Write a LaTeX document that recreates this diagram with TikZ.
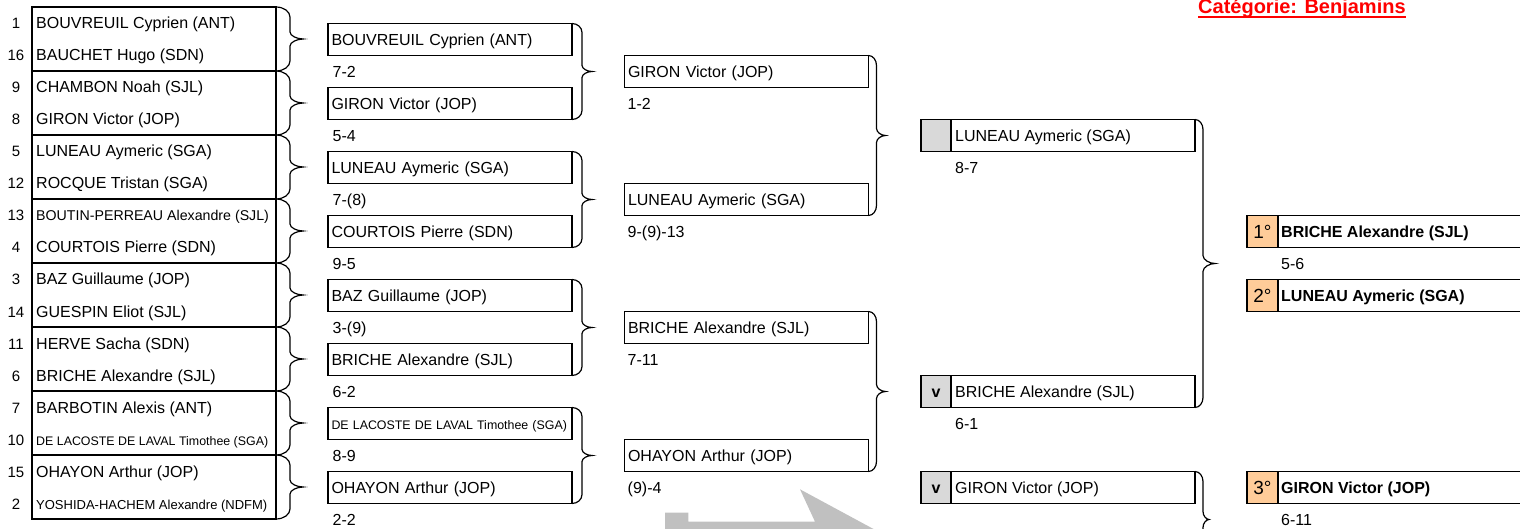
\documentclass[tikz,border=0pt]{standalone}
\usepackage{fontspec}
\setmainfont{Liberation Sans}
\usetikzlibrary{calc}
\definecolor{cellgrey}{HTML}{D9D9D9}
\definecolor{arrowgrey}{HTML}{C0C0C0}
\definecolor{placeorange}{HTML}{FFCC99}
\definecolor{titlered}{HTML}{FF0000}
\newcommand\fsn{\fontsize{16pt}{18pt}\selectfont}
\newcommand\fsa{\fontsize{14.2pt}{16pt}\selectfont}
\newcommand\fsb{\fontsize{13pt}{15pt}\selectfont}
\newcommand\fsc{\fontsize{12.4pt}{14pt}\selectfont}
\newcommand\fsseed{\fontsize{15pt}{17pt}\selectfont}
\newcommand\fsplace{\fontsize{19pt}{21pt}\selectfont}
\newcommand\fstitle{\fontsize{20pt}{22pt}\selectfont\bfseries}
% brace: #1 top point, #2 bottom point, #3 dx to vertical, #4 dx to tip, #5 end radius, #6 tip radius
\newcommand\brk[6]{%
  \draw[brc] let \p1=#1, \p2=#2, \p3=($#1!0.5!#2$) in
   (\x1,\y1) .. controls (\x1+0.55*#3pt,\y1) and (\x1+#3pt,\y1-0.45*#5pt) .. (\x1+#3pt,\y1-#5pt)
   -- (\x1+#3pt,\y3+#6pt)
   .. controls (\x1+#3pt,\y3+0.45*#6pt) and (\x1+0.55*#4pt+0.45*#3pt,\y3) .. (\x1+#4pt,\y3)
   .. controls (\x1+0.55*#4pt+0.45*#3pt,\y3) and (\x1+#3pt,\y3-0.45*#6pt) .. (\x1+#3pt,\y3-#6pt)
   -- (\x1+#3pt,\y2+#5pt)
   .. controls (\x1+#3pt,\y2+0.45*#5pt) and (\x2+0.55*#3pt,\y2) .. (\x2,\y2);}
\tikzset{
  brc/.style={line width=1.2pt, black},
  grp/.style={draw, line width=1.6pt, minimum width=244pt, minimum height=64pt, inner sep=0pt, outer sep=0pt, anchor=north west},
  seed/.style={anchor=base, inner sep=0pt, font=\fsseed},
  rowtxt/.style={anchor=base west, inner sep=0pt},
  bx/.style={draw, line width=1.6pt, minimum height=32pt, inner xsep=3.5pt, inner ysep=0pt, outer sep=0pt,
     text width=237pt, align=left, text height=15pt, text depth=3pt, anchor=west},
  sc/.style={anchor=base west, inner sep=0pt, font=\fsn},
  wbox/.style={draw, line width=1.6pt, minimum height=32pt, inner sep=0pt, outer sep=0pt, anchor=west},
  cell/.style={draw, line width=1.6pt, minimum height=32pt, inner sep=0pt, outer sep=0pt, anchor=west,
     text height=15pt, text depth=3pt},
}
\begin{document}
\begin{tikzpicture}[x=1pt,y=-1pt]
\useasboundingbox (0,0) rectangle (1520,529);
\clip (0,0) rectangle (1520,529);

% big grey arrow (bottom, partly cut)
\fill[arrowgrey] (665,540) -- (665,512.7) -- (688.3,512.7) -- (688.3,521.7) -- (815,521.7)
  -- (800,489.3) -- (890,537.9) -- (890,540) -- cycle;

% title
\node[anchor=base west, inner sep=0pt, font=\fstitle, text=titlered] (title) at (1198,13.3) {Catégorie: Benjamins};
\draw[titlered, line width=2.3pt] ([yshift=-3.7pt]title.base west) -- ([yshift=-3.7pt]title.base east);

% round 1
\foreach \k in {0,...,7} {\node[grp] (g\k) at (32,7+64*\k) {};}
\foreach \s/\nm/\f [count=\i from 0] in {
  1/BOUVREUIL Cyprien (ANT)/\fsn,
  16/BAUCHET Hugo (SDN)/\fsn,
  9/CHAMBON Noah (SJL)/\fsn,
  8/GIRON Victor (JOP)/\fsn,
  5/LUNEAU Aymeric (SGA)/\fsn,
  12/ROCQUE Tristan (SGA)/\fsn,
  13/BOUTIN-PERREAU Alexandre (SJL)/\fsa,
  4/COURTOIS Pierre (SDN)/\fsn,
  3/BAZ Guillaume (JOP)/\fsn,
  14/GUESPIN Eliot (SJL)/\fsn,
  11/HERVE Sacha (SDN)/\fsn,
  6/BRICHE Alexandre (SJL)/\fsn,
  7/BARBOTIN Alexis (ANT)/\fsn,
  10/DE LACOSTE DE LAVAL Timothee (SGA)/\fsc,
  15/OHAYON Arthur (JOP)/\fsn,
  2/YOSHIDA-HACHEM Alexandre (NDFM)/\fsb}
{
  \node[seed] (s\i) at (16,29+32*\i) {\s};
  \node[rowtxt, font=\f] (n\i) at (36,29+32*\i) {\nm};
}
\foreach \k in {0,...,7} {\brk{(g\k.north east)}{(g\k.south east)}{14}{27}{10}{7}}

% round 2
\foreach \nm/\scr/\f [count=\i from 0] in {
  BOUVREUIL Cyprien (ANT)/7-2/\fsn,
  GIRON Victor (JOP)/5-4/\fsn,
  LUNEAU Aymeric (SGA)/7-(8)/\fsn,
  COURTOIS Pierre (SDN)/9-5/\fsn,
  BAZ Guillaume (JOP)/3-(9)/\fsn,
  BRICHE Alexandre (SJL)/6-2/\fsn,
  DE LACOSTE DE LAVAL Timothee (SGA)/8-9/\fsc,
  OHAYON Arthur (JOP)/2-2/\fsn}
{
  \node[bx, font=\f] (b\i) at (328,39.5+64*\i) {\nm};
  \node[sc] (bs\i) at (332.5,77.5+64*\i) {\scr};
}
\foreach \k in {0,2,4,6} {\pgfmathtruncatemacro\kk{\k+1}\brk{(b\k.north east)}{(b\kk.south east)}{10}{20}{9}{6}}

% round 3
\foreach \nm/\scr [count=\i from 0] in {
  GIRON Victor (JOP)/1-2,
  LUNEAU Aymeric (SGA)/9-(9)-13,
  BRICHE Alexandre (SJL)/7-11,
  OHAYON Arthur (JOP)/(9)-4}
{
  \node[bx, font=\fsn] (c\i) at (624.5,71.5+128*\i) {\nm};
  \node[sc] (cs\i) at (627.5,109.5+128*\i) {\scr};
}
\brk{(c0.north east)}{(c1.south east)}{8}{17}{10}{7}
\brk{(c2.north east)}{(c3.south east)}{8}{17}{10}{7}

% round 4
\node[wbox, minimum width=274pt] (d0) at (921,135.5) {};
\node[cell, minimum width=30pt, fill=cellgrey] (dv0) at (921,135.5) {};
\node[rowtxt, font=\fsn] (dn0) at (955,141.5) {LUNEAU Aymeric (SGA)};
\node[sc] (ds0) at (955,173.5) {8-7};

\node[wbox, minimum width=274pt] (d1) at (921,391.5) {};
\node[cell, minimum width=30pt, fill=cellgrey, font=\fsn\bfseries] (dv1) at (921,391.5) {v};
\node[rowtxt, font=\fsn] (dn1) at (955,397.5) {BRICHE Alexandre (SJL)};
\node[sc] (ds1) at (955,429.5) {6-1};

\node[wbox, minimum width=274pt] (d2) at (921,487.5) {};
\node[cell, minimum width=30pt, fill=cellgrey, font=\fsn\bfseries] (dv2) at (921,487.5) {v};
\node[rowtxt, font=\fsn] (dn2) at (955,493.5) {GIRON Victor (JOP)};

\brk{(d0.north east)}{(d1.south east)}{8}{20}{10}{8}
\coordinate (d3) at (1195,567.5);
\brk{(d2.north east)}{(d3)}{8}{14}{10}{8}

% final places
\foreach \pl/\nm/\yy/\nn in {1°/BRICHE Alexandre (SJL)/231.5/0, 2°/LUNEAU Aymeric (SGA)/295.5/1, 3°/GIRON Victor (JOP)/487.5/2}
{
  \node[wbox, minimum width=290pt] (e\nn) at (1247,\yy) {};
  \node[cell, minimum width=31pt, fill=placeorange, font=\fsplace, text height=15pt, text depth=1pt] (ep\nn) at (1247,\yy) {\pl};
  \node[rowtxt, font=\fsn\bfseries] (en\nn) at (1281,\yy+6) {\nm};
}
\node[sc] (es0) at (1281,269.5) {5-6};
\node[sc] (es2) at (1281,525.5) {6-11};
\end{tikzpicture}
\end{document}
